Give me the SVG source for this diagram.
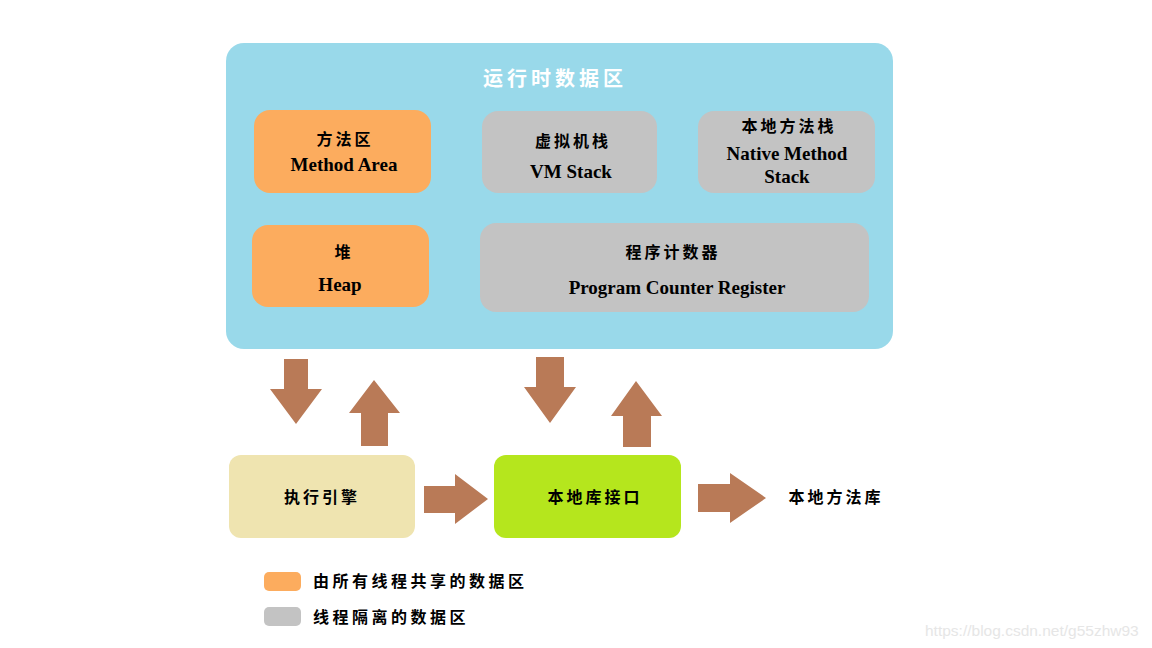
<svg xmlns="http://www.w3.org/2000/svg" width="1152" height="648" viewBox="0 0 1152 648">
<style>
.cn{font-family:"Noto Sans CJK SC","Noto Sans CJK JP",sans-serif;font-weight:bold;font-size:16px;fill:#000;letter-spacing:3px;text-anchor:middle;dominant-baseline:central}
.en{font-family:"Liberation Serif",serif;font-weight:bold;font-size:19px;fill:#000;text-anchor:middle;dominant-baseline:central}
.lg{font-family:"Noto Sans CJK SC","Noto Sans CJK JP",sans-serif;font-weight:bold;font-size:16px;fill:#000;letter-spacing:3.5px;dominant-baseline:central}
.orange{fill:#FCAC5E}
.gray{fill:#C3C3C3}
.arrow{fill:#B97A57}
</style>
<rect width="1152" height="648" fill="#fff"/>
<g id="runtime-data-area">
<rect x="226" y="43" width="667" height="306" rx="18" fill="#99D9EA"/>
<text x="555" y="77" class="cn" style="fill:#fff;font-size:20px;letter-spacing:4px">运行时数据区</text>
</g>
<g id="method-area">
<rect class="orange" x="254" y="110" width="177" height="83" rx="16"/>
<text x="345" y="138" class="cn">方法区</text>
<text x="344" y="164" class="en">Method Area</text>
</g>
<g id="vm-stack">
<rect class="gray" x="482" y="111" width="175" height="82" rx="16"/>
<text x="573" y="140" class="cn">虚拟机栈</text>
<text x="571" y="171" class="en">VM Stack</text>
</g>
<g id="native-method-stack">
<rect class="gray" x="698" y="111" width="177" height="82" rx="16"/>
<text x="789" y="125" class="cn">本地方法栈</text>
<text x="787" y="153" class="en">Native Method</text>
<text x="787" y="176" class="en">Stack</text>
</g>
<g id="heap">
<rect class="orange" x="252" y="225" width="177" height="82" rx="16"/>
<text x="344" y="251" class="cn">堆</text>
<text x="340" y="284" class="en">Heap</text>
</g>
<g id="program-counter-register">
<rect class="gray" x="480" y="223" width="389" height="89" rx="16"/>
<text x="673" y="251" class="cn">程序计数器</text>
<text x="677" y="287" class="en">Program Counter Register</text>
</g>
<g id="execution-engine">
<rect x="229" y="455" width="186" height="83" rx="12" fill="#EFE4B0"/>
<text x="322" y="496" class="cn">执行引擎</text>
</g>
<g id="native-interface">
<rect x="494" y="455" width="187" height="83" rx="12" fill="#B5E61D"/>
<text x="595" y="496" class="cn">本地库接口</text>
</g>
<g id="native-library">
<text x="836" y="496" class="cn">本地方法库</text>
</g>
<g id="connectors">
<polygon class="arrow" points="284,359 308,359 308,389 322,389 296,424 270,389 284,389"/>
<polygon class="arrow" points="361,446 388,446 388,413 400,413 374,380 349,413 361,413"/>
<polygon class="arrow" points="536,357 564,357 564,387 576,387 550,423 524,387 536,387"/>
<polygon class="arrow" points="623,447 651,447 651,416 662,416 636,381 611,416 623,416"/>
<polygon class="arrow" points="424,486 455,486 455,474 488,499 455,524 455,513 424,513"/>
<polygon class="arrow" points="698,484 730,484 730,473 766,498 730,523 730,512 698,512"/>
</g>
<g id="legend">
<rect class="orange" x="264" y="572" width="37" height="19" rx="5"/>
<text x="313" y="580" class="lg">由所有线程共享的数据区</text>
<rect class="gray" x="264" y="607" width="37" height="19" rx="5"/>
<text x="313" y="616" class="lg">线程隔离的数据区</text>
</g>
<text x="925" y="630" font-family="Liberation Sans, sans-serif" font-size="15.5" fill="#E6E6E6" dominant-baseline="central">https://blog.csdn.net/g55zhw93</text>
</svg>
